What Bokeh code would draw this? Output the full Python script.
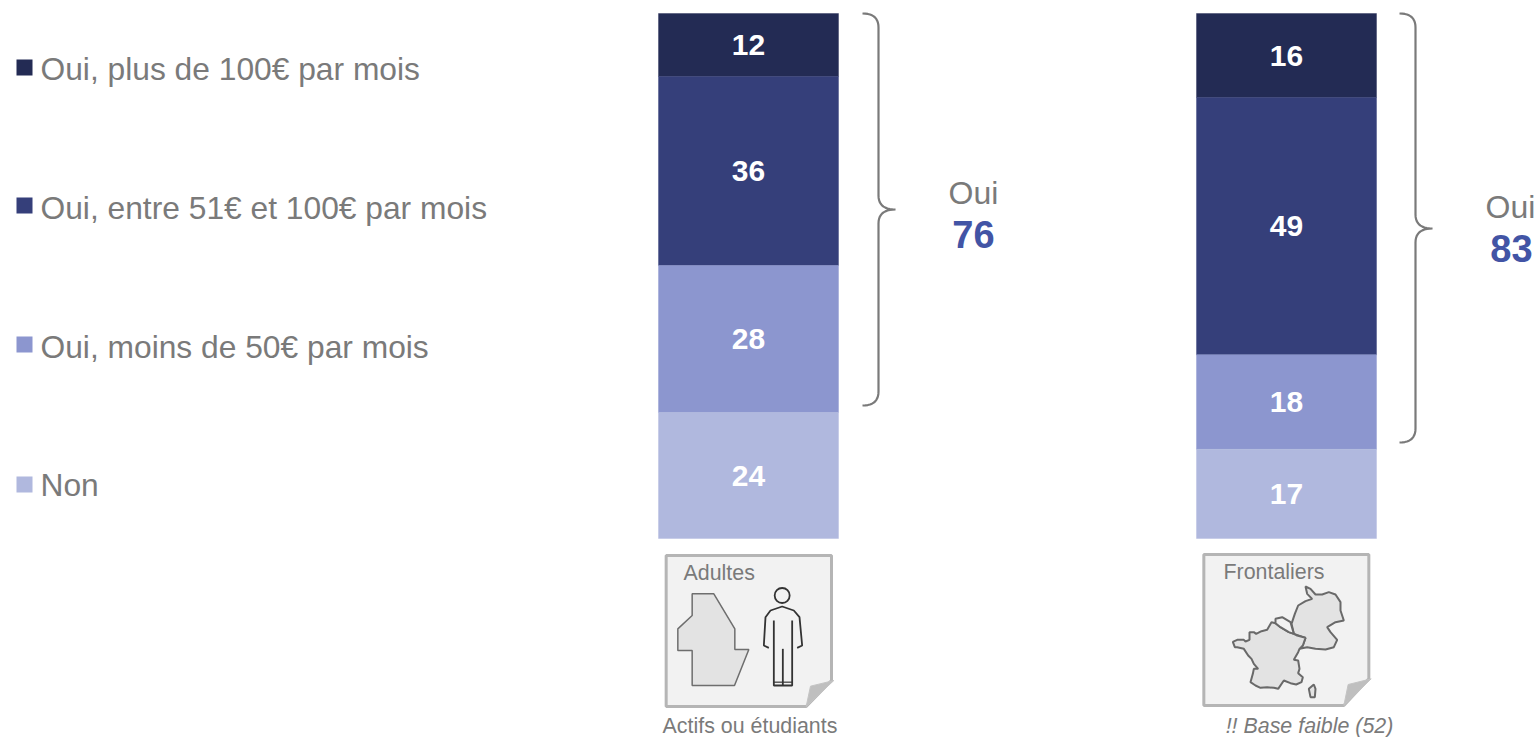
import numpy as np
from bokeh.plotting import figure
from bokeh.models import ColumnDataSource
from bokeh.core.properties import value
from bokeh.embed import file_html
from bokeh.resources import INLINE

# ---- data ----
series = ["Oui, plus de 100€ par mois", "Oui, entre 51€ et 100€ par mois", "Oui, moins de 50€ par mois", "Non"]
adultes = [12, 36, 28, 24]
frontaliers = [16, 49, 18, 17]
oui_totals = [76, 83]
oui_label = "Oui"
group_labels = ["Adultes", "Frontaliers"]
group_notes = ["Actifs ou étudiants", "!! Base faible (52)"]

# ---- style / layout ----
colors = ["#232b54", "#353f7a", "#8c96cf", "#b0b8de"]
GREY = "#7a7a7a"
BLUE = "#4254a5"
FONT = value("Liberation Sans")
W, H = 1539, 737
BASE, PPU = 538.0, 5.25
BAR_W = 180
centers = [748, 1286]


def Y(py):
    return (BASE - np.asarray(py, dtype=float)) / PPU


p = figure(width=W, height=H, x_range=(0, W), y_range=(Y(H), Y(0)),
           output_backend="svg", toolbar_location=None, min_border=0,
           x_axis_type="linear", background_fill_color="white")
p.axis.visible = False
p.grid.visible = False
p.outline_line_color = None


def txt(x, py, s, size, color, bold=False, italic=False, align="center"):
    style = "bold" if bold else ("italic" if italic else "normal")
    p.text([x], [float(Y(py))], text=[s], text_font=FONT, text_font_size=size,
           text_color=color, text_font_style=style, text_align=align, text_baseline="middle")


# stacked bars
for cx, vals in zip(centers, [adultes, frontaliers]):
    tops = 100 - np.cumsum([0] + vals[:-1])
    bottoms = tops - np.array(vals)
    src = ColumnDataSource(dict(x=[cx] * 4, top=tops, bottom=bottoms, c=colors,
                                mid=(tops + bottoms) / 2, lab=[str(v) for v in vals]))
    p.vbar(x="x", top="top", bottom="bottom", width=BAR_W, fill_color="c", line_color="c",
           line_width=0.4, source=src)
    p.text(x="x", y="mid", text="lab", source=src, text_font=FONT, text_font_size="30px",
           text_font_style="bold", text_color="white", text_align="center", text_baseline="middle")

# legend
leg_sq = [67, 205, 344, 484]
leg_tx = [68, 207, 346, 484]
for name, c, ys, yt in zip(series, colors, leg_sq, leg_tx):
    p.scatter([24], [float(Y(ys))], marker="square", size=16, fill_color=c, line_color=None)
    txt(40, yt, name, "31.75px", GREY, align="left")


# braces
def brace(x0, ytop, ybot, ymid, w=16, tip=17, r=14):
    t = np.linspace(0, 1, 12)
    xv = x0 + w
    xs, ys = [], []

    def q(a, b, c):
        for u in t:
            xs.append((1 - u) ** 2 * a[0] + 2 * u * (1 - u) * b[0] + u ** 2 * c[0])
            ys.append((1 - u) ** 2 * a[1] + 2 * u * (1 - u) * b[1] + u ** 2 * c[1])

    q((x0, ytop), (xv, ytop), (xv, ytop + r))
    q((xv, ymid - r), (xv, ymid), (xv + tip, ymid))
    q((xv + tip, ymid), (xv, ymid), (xv, ymid + r))
    q((xv, ybot - r), (xv, ybot), (x0, ybot))
    p.line(xs, Y(ys), line_color=GREY, line_width=2.2)


brace(862, 13, 405, 209)
brace(1399, 13, 442, 228)

txt(973, 192, oui_label, "32px", GREY)
txt(973, 234, str(oui_totals[0]), "38px", BLUE, bold=True)
txt(1510, 206, oui_label, "32px", GREY)
txt(1511, 248, str(oui_totals[1]), "38px", BLUE, bold=True)


def poly(ox, oy, pts, fill, line, lw=1.5):
    a = np.array(pts, dtype=float)
    p.patch(ox + a[:, 0] / 3, Y(oy + a[:, 1] / 3), fill_color=fill, line_color=line, line_width=lw)


def pline(ox, oy, pts, line="#333333", lw=1.8):
    a = np.array(pts, dtype=float)
    p.line(ox + a[:, 0] / 3, Y(oy + a[:, 1] / 3), line_color=line, line_width=lw)


def sticker(ox, oy, l, t, r, b, fx, fy):
    poly(ox, oy, [(l, t), (r, t), (r, fy), (fx, b), (l, b)], "#f2f2f2", "#b5b5b5", 3)
    poly(ox, oy, [(fx, b), (r + 7, fy), (fx + 13, fy + 17)], "#bfbfbf", "#c4c4c4", 1)


# sticker 1
sticker(640, 540, 77, 45, 573, 498, 497, 420)
poly(640, 540, [(155, 160), (220, 160), (283, 265), (283, 327), (325, 327), (282, 435), (155, 435),
                (155, 330), (112, 330), (112, 265), (155, 225)], "#e3e3e3", "#6e6e6e", 1.5)
p.scatter([755 + 80 / 3], [float(Y(580 + 45 / 3))], marker="circle", size=15, fill_color=None,
          line_color="#333333", line_width=1.8)
pline(755, 580, [(40, 202), (25, 195), (30, 110), (45, 90), (80, 78), (115, 90), (132, 110),
                 (140, 195), (125, 202)])
pline(755, 580, [(55, 120), (55, 315), (110, 315), (110, 120)])
pline(755, 580, [(55, 305), (110, 305)], lw=1.2)
pline(755, 580, [(82, 205), (82, 315)])
txt(683, 572, group_labels[0], "21.4px", GREY, align="left")
txt(749.5, 725, group_notes[0], "21.4px", GREY)

# sticker 2
sticker(1180, 540, 70, 42, 565, 495, 490, 415)
MAPC = "#696969"
poly(1225, 580, [(240, 18), (255, 25), (270, 42), (290, 42), (310, 35), (330, 42), (345, 65), (345, 90),
                 (355, 120), (330, 125), (305, 140), (315, 155), (335, 178), (325, 200), (300, 207),
                 (270, 205), (245, 200), (222, 205), (232, 195), (240, 172), (205, 160), (198, 130),
                 (208, 100), (218, 75), (240, 62), (260, 55), (245, 40)], "#e3e3e3", MAPC, 2)
poly(1225, 580, [(22, 184), (35, 178), (55, 178), (60, 183), (72, 178), (72, 155), (85, 155), (92, 160),
                 (108, 152), (125, 148), (138, 125), (150, 128), (165, 140), (190, 155), (205, 160),
                 (215, 165), (240, 172), (232, 195), (222, 205), (218, 215), (205, 238), (218, 240),
                 (222, 265), (218, 278), (232, 290), (228, 305), (212, 312), (195, 308), (175, 300),
                 (158, 325), (145, 322), (125, 320), (105, 322), (90, 315), (75, 305), (82, 280),
                 (85, 265), (98, 265), (85, 250), (78, 235), (68, 225), (55, 205), (35, 200), (28, 200)],
     "#e3e3e3", MAPC, 2)
poly(1225, 580, [(150, 115), (170, 110), (195, 125), (205, 160), (190, 155), (165, 140), (150, 128)],
     "#f2f2f2", MAPC, 2)
poly(1225, 580, [(250, 325), (265, 312), (270, 325), (268, 350), (255, 350)], "#e3e3e3", MAPC, 2)
txt(1223, 571, group_labels[1], "21.4px", GREY, align="left")
txt(1309, 725, group_notes[1], "21.4px", GREY, italic=True)

html = file_html(p, INLINE)
html = html.replace("<head>", "<head><style>html,body{margin:0;padding:0;overflow:hidden}</style>", 1)
open("out.html", "w").write(html)
